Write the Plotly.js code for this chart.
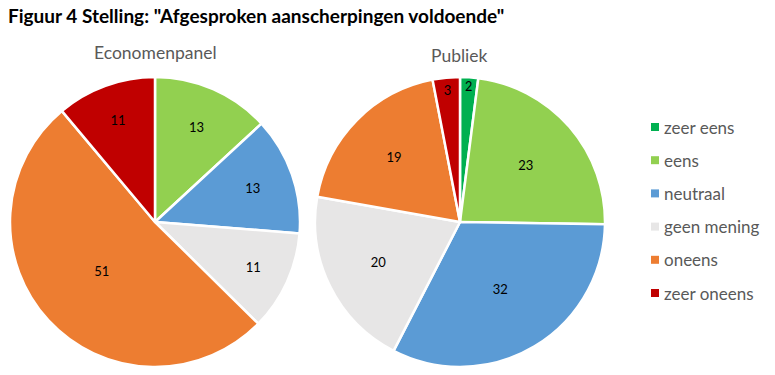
<!DOCTYPE html>
<html>
<head>
<meta charset="utf-8">
<script src="https://cdn.plot.ly/plotly-3.0.1.min.js"></script>
<style>body{margin:0;padding:0;background:#fff}#chart{width:775px;height:375px}</style>
</head>
<body>
<div id="chart"></div>
<script>
const categories = ['zeer eens', 'eens', 'neutraal', 'geen mening', 'oneens', 'zeer oneens'];
const colors = ['#00B050', '#92D050', '#5B9BD5', '#E7E6E6', '#ED7D31', '#C00000'];
const economenpanel = [0, 13, 13, 11, 51, 11];
const publiek = [2, 23, 32, 20, 19, 3];
const pieTitles = ['Economenpanel', 'Publiek'];
const chartTitle = 'Figuur 4 Stelling: "Afgesproken aanscherpingen voldoende"';

const W = 775, H = 375;
const FONT = 'Lato, "Open Sans", sans-serif';

function pieTrace(vals, x0, x1, y0, y1) {
  return {
    type: 'pie',
    labels: categories,
    values: vals,
    text: vals.map(v => v > 0 ? String(v) : ''),
    textinfo: 'text',
    textposition: 'inside',
    insidetextorientation: 'horizontal',
    insidetextfont: {family: FONT, size: 13, color: '#000'},
    sort: false,
    direction: 'clockwise',
    rotation: 0,
    marker: {colors: colors, line: {color: '#fff', width: 2.5}},
    domain: {x: [x0 / W, x1 / W], y: [(H - y1) / H, (H - y0) / H]},
    hoverinfo: 'none',
    showlegend: false
  };
}

const data = [
  pieTrace(economenpanel, 9, 301, 77, 367),
  pieTrace(publiek, 315, 605, 77, 367)
];

const annotations = [
  {text: chartTitle, x: 6 / W, y: 1 - 16 / H, xref: 'paper', yref: 'paper', xanchor: 'left', yanchor: 'middle', showarrow: false, font: {family: FONT, size: 19, color: '#000', weight: 'bold'}},
  {text: pieTitles[0], x: 155 / W, y: 1 - 52 / H, xref: 'paper', yref: 'paper', xanchor: 'center', yanchor: 'middle', showarrow: false, font: {family: FONT, size: 17.5, color: '#595959'}},
  {text: pieTitles[1], x: 460 / W, y: 1 - 56 / H, xref: 'paper', yref: 'paper', xanchor: 'center', yanchor: 'middle', showarrow: false, font: {family: FONT, size: 17.5, color: '#595959'}}
];
const shapes = [];
categories.forEach((c, i) => {
  const yc = 127 + i * 33.2;
  shapes.push({type: 'rect', xref: 'paper', yref: 'paper', x0: 651 / W, x1: 659 / W, y0: 1 - (yc + 4) / H, y1: 1 - (yc - 4) / H, fillcolor: colors[i], line: {width: 0}});
  annotations.push({text: c, x: 662 / W, y: 1 - yc / H, xref: 'paper', yref: 'paper', xanchor: 'left', yanchor: 'middle', showarrow: false, font: {family: FONT, size: 17, color: '#595959'}});
});

const layout = {
  width: W, height: H,
  margin: {l: 0, r: 0, t: 0, b: 0},
  paper_bgcolor: '#fff',
  showlegend: false,
  annotations: annotations,
  shapes: shapes
};
Plotly.newPlot('chart', data, layout, {displayModeBar: false, staticPlot: true});
</script>
</body>
</html>
